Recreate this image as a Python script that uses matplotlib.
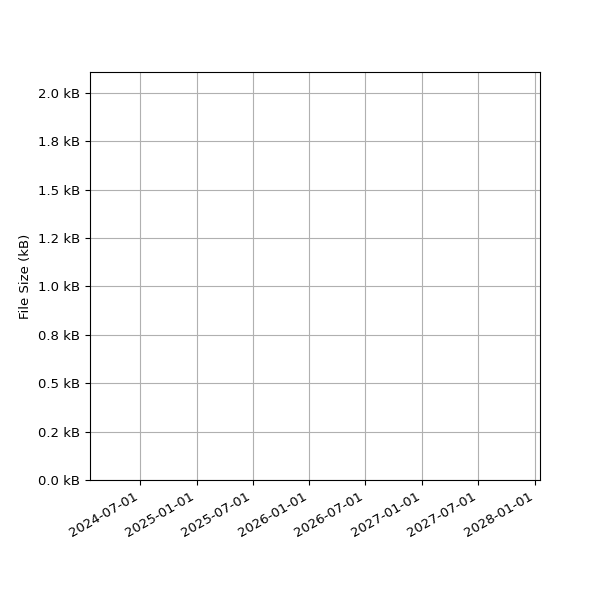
import matplotlib
matplotlib.use("Agg")
import matplotlib.pyplot as plt
import matplotlib.dates as mdates
from matplotlib.ticker import FuncFormatter, MultipleLocator
import datetime as dt

plt.rcParams["font.size"] = 9.5

# Data (the reference chart contains no visible data points)
dates = []
sizes_bytes = []

x_start = dt.datetime(2024, 1, 21)
x_end = dt.datetime(2028, 1, 18)
y_max = 2108

fig, ax = plt.subplots(figsize=(6, 6), dpi=100)
fig.subplots_adjust(left=0.15, right=0.9, top=0.88, bottom=0.2)

ax.plot(dates, sizes_bytes)
ax.set_xlim(x_start, x_end)
ax.set_ylim(0, y_max)

ax.xaxis.set_major_locator(mdates.MonthLocator(bymonth=[1, 7]))
ax.xaxis.set_major_formatter(mdates.DateFormatter("%Y-%m-%d"))
ax.yaxis.set_major_locator(MultipleLocator(250))
ax.yaxis.set_major_formatter(FuncFormatter(lambda v, p: f"{v/1000:.1f} kB"))

ax.set_ylabel("File Size (kB)")
ax.grid(True)
for lbl in ax.get_xticklabels():
    lbl.set_rotation(30)
    lbl.set_ha("right")

fig.savefig("out.png", dpi=100)
